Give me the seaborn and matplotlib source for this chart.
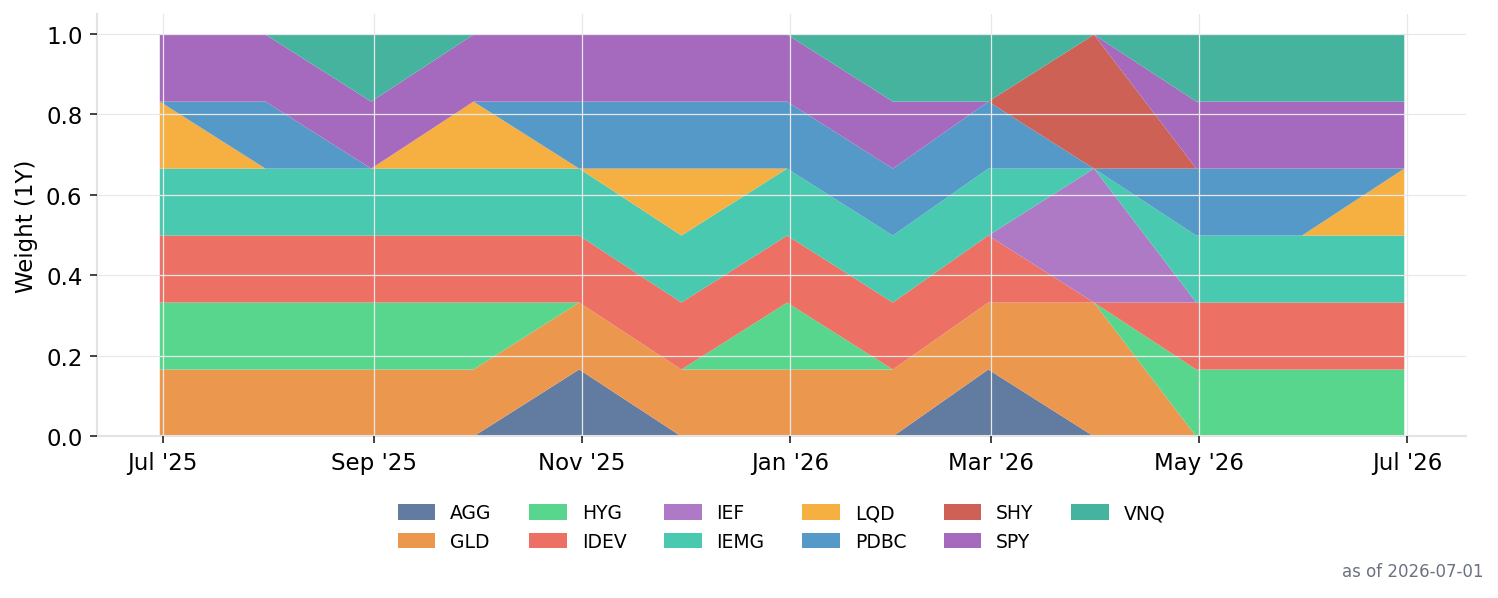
import pandas as pd
import seaborn as sns
import matplotlib
matplotlib.use('Agg')
import matplotlib.pyplot as plt
import matplotlib.dates as mdates

# Month-end rebalance dates
dates = ['2025-06-30', '2025-07-31', '2025-08-31', '2025-09-30', '2025-10-31',
         '2025-11-30', '2025-12-31', '2026-01-31', '2026-02-28', '2026-03-31',
         '2026-04-30', '2026-05-31', '2026-06-30']

tickers = ['AGG', 'GLD', 'HYG', 'IDEV', 'IEF', 'IEMG',
           'LQD', 'PDBC', 'SHY', 'SPY', 'VNQ']

# Weights in sixths (each holding = 1/6 of the portfolio)
agg = [0, 0, 0, 0, 1, 0, 0, 0, 1, 0, 0, 0, 0]
gld = [1, 1, 1, 1, 1, 1, 1, 1, 1, 2, 0, 0, 0]
hyg = [1, 1, 1, 1, 0, 0, 1, 0, 0, 0, 1, 1, 1]
idev = [1, 1, 1, 1, 1, 1, 1, 1, 1, 0, 1, 1, 1]
ief = [0, 0, 0, 0, 0, 0, 0, 0, 0, 2, 0, 0, 0]
iemg = [1, 1, 1, 1, 1, 1, 1, 1, 1, 0, 1, 1, 1]
lqd = [1, 0, 0, 1, 0, 1, 0, 0, 0, 0, 0, 0, 1]
pdbc = [0, 1, 0, 0, 1, 1, 1, 1, 1, 0, 1, 1, 0]
shy = [0, 0, 0, 0, 0, 0, 0, 0, 0, 2, 0, 0, 0]
spy = [1, 1, 1, 1, 1, 1, 1, 1, 0, 0, 1, 1, 1]
vnq = [0, 0, 1, 0, 0, 0, 0, 1, 1, 0, 1, 1, 1]

colors = ['#627ba0', '#eb984e', '#58d68d', '#ec7063', '#af7ac5', '#48c9b0',
          '#f5b041', '#5499c7', '#cd6155', '#a569bd', '#45b39d']

df = pd.DataFrame(
    [agg, gld, hyg, idev, ief, iemg, lqd, pdbc, shy, spy, vnq],
    index=tickers,
    columns=pd.to_datetime(dates)
).T / 6

sns.set_theme(style='whitegrid')
plt.rcParams['font.family'] = ['DejaVu Sans']
plt.rcParams['text.color'] = 'black'
plt.rcParams['axes.labelcolor'] = 'black'

fig, ax = plt.subplots(figsize=(9.987, 3.993), dpi=150)
fig.subplots_adjust(left=0.0648, right=0.9786, top=0.975, bottom=0.2705)

ax.stackplot(
    df.index,
    [df[t].values for t in tickers],
    labels=tickers,
    colors=colors,
    linewidth=0
)

ax.set_ylim(0, 1.05)
ax.set_ylabel('Weight (1Y)', fontsize=11)

ax.xaxis.set_major_locator(mdates.MonthLocator(bymonth=[1, 3, 5, 7, 9, 11]))
ax.xaxis.set_major_formatter(mdates.DateFormatter("%b '%y"))

ax.tick_params(axis='both', labelsize=11, length=3.5, width=0.8,
               color='#222222', labelcolor='black', bottom=True, left=True)

ax.set_axisbelow(False)
ax.grid(True, color='#e8e8e8', linewidth=0.6)
ax.set_facecolor('white')
sns.despine(ax=ax, top=True, right=True)
for s in ['left', 'bottom']:
    ax.spines[s].set_color('#e3e3e3')
    ax.spines[s].set_linewidth(1.0)

ax.legend(
    loc='upper center',
    bbox_to_anchor=(0.5, -0.12),
    ncol=6,
    frameon=False,
    fontsize=9,
    labelcolor='black',
    handlelength=2.0,
    handleheight=0.9,
    columnspacing=2.0
)

fig.text(0.99, 0.03, 'as of 2026-07-01', ha='right', va='bottom',
         fontsize=8, color='#6b7280')

plt.savefig('out.png', dpi=150)
